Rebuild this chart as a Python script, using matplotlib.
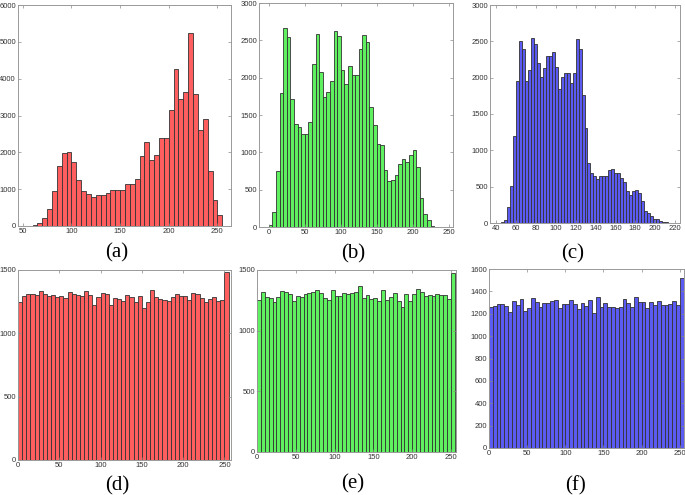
import matplotlib
matplotlib.use("Agg")
import matplotlib.pyplot as plt
import numpy as np

# ---- data (counts per bin) ----
# (a) red channel, bins of 5 starting at 60
a_start, a_width = 60, 5
a_counts = [25, 90, 220, 450, 950, 1640, 1980, 2010, 1740, 1250, 960, 870, 780, 850,
            850, 900, 970, 970, 980, 1150, 1140, 1280, 1900, 2270, 1780, 1920, 2390,
            2390, 3140, 4260, 3460, 3640, 5250, 3590, 2610, 2910, 1480, 715, 310]

# (b) green channel, bins of 5 starting at 0
b_start, b_width = 0, 5
b_counts = [30, 200, 750, 1800, 2670, 2540, 1720, 1380, 1340, 1250, 1250, 1400, 2180,
            2590, 2070, 1740, 1810, 1950, 2630, 2560, 2100, 1920, 2150, 2030, 2030,
            2390, 2570, 2480, 1610, 1360, 1110, 1100, 770, 610, 630, 700, 850, 910,
            870, 960, 1030, 800, 390, 170, 100, 20]

# (c) blue channel, bins of 3 starting at 42
c_start, c_width = 42, 3
c_counts = [3, 10, 40, 220, 510, 1200, 1950, 2510, 2390, 1960, 2100, 2540, 2460, 2200,
            2010, 2130, 2300, 2300, 2360, 2150, 1840, 2010, 2070, 2070, 1930, 2070,
            2530, 2390, 1760, 1310, 830, 690, 650, 610, 640, 650, 640, 730, 750, 690,
            690, 620, 570, 440, 390, 440, 450, 410, 300, 170, 140, 90, 60, 50, 30,
            20, 10]

# (d)-(f) equalised channels, bins of 5 starting at 0
u_start, u_width = 0, 5
d_counts = [1244, 1297, 1308, 1308, 1300, 1337, 1308, 1292, 1300, 1287, 1295, 1276,
            1329, 1308, 1305, 1297, 1334, 1300, 1221, 1287, 1321, 1308, 1221, 1281,
            1273, 1255, 1300, 1289, 1247, 1292, 1197, 1244, 1339, 1289, 1268, 1266,
            1255, 1284, 1310, 1292, 1292, 1263, 1318, 1310, 1276, 1244, 1268, 1289,
            1258, 1260, 1482]
e_counts = [1252, 1316, 1274, 1269, 1239, 1274, 1324, 1321, 1305, 1244, 1285, 1277,
            1299, 1313, 1316, 1332, 1310, 1266, 1252, 1332, 1285, 1283, 1313, 1299,
            1313, 1316, 1368, 1266, 1294, 1258, 1272, 1244, 1332, 1250, 1277, 1310,
            1244, 1197, 1302, 1244, 1299, 1346, 1316, 1283, 1296, 1288, 1302, 1294,
            1291, 1258, 1473]
f_counts = [1262, 1271, 1286, 1283, 1271, 1217, 1316, 1280, 1334, 1226, 1250, 1343,
            1304, 1256, 1298, 1292, 1316, 1319, 1250, 1289, 1286, 1322, 1289, 1241,
            1298, 1271, 1322, 1211, 1349, 1259, 1295, 1259, 1262, 1250, 1262, 1331,
            1295, 1256, 1346, 1301, 1304, 1247, 1304, 1277, 1316, 1274, 1274, 1286,
            1310, 1277, 1522]

panel_labels = ["(a)", "(b)", "(c)", "(d)", "(e)", "(f)"]

RED, GREEN, BLUE = "#FF5E5E", "#5EF05E", "#5B5BF2"

W, H = 685, 495
fig = plt.figure(figsize=(W / 100, H / 100), dpi=100)


def add_axes(left, top, right, bottom):
    return fig.add_axes([left / W, 1 - bottom / H, (right - left) / W, (bottom - top) / H])


def hist_panel(ax, counts, start, width, color, xlim, ylim, xticks, yticks):
    counts = np.asarray(counts, dtype=float)
    lefts = start + width * np.arange(len(counts))
    ax.bar(lefts, counts, width=width, align="edge", color=color,
           edgecolor="#333333", linewidth=0.6)
    ax.set_xlim(*xlim)
    ax.set_ylim(*ylim)
    ax.set_xticks(xticks)
    ax.set_yticks(yticks)
    ax.tick_params(direction="in", length=2, width=0.5, top=True, right=True,
                   labelsize=5.5, colors="#888888", labelcolor="#333333", pad=1.5)
    for lab in ax.get_xticklabels() + ax.get_yticklabels():
        lab.set_family("Liberation Sans")
        lab.set_stretch("condensed")
    for sp in ax.spines.values():
        sp.set_color("#999999")
        sp.set_linewidth(0.7)


ax_a = add_axes(18, 5, 231, 226)
hist_panel(ax_a, a_counts, a_start, a_width, RED, (45, 264), (0, 6000),
           range(50, 251, 50), range(0, 6001, 1000))
ax_b = add_axes(259, 3, 453, 227)
hist_panel(ax_b, b_counts, b_start, b_width, GREEN, (-13.5, 256), (0, 3000),
           range(0, 251, 50), range(0, 3001, 500))
ax_c = add_axes(490, 5, 680, 223)
hist_panel(ax_c, c_counts, c_start, c_width, BLUE, (34, 225), (0, 3000),
           range(40, 221, 20), range(0, 3001, 500))
ax_d = add_axes(18, 270, 231, 460)
hist_panel(ax_d, d_counts, u_start, u_width, RED, (0, 258), (0, 1500),
           range(0, 251, 50), range(0, 1501, 500))
ax_e = add_axes(257, 270, 456, 452)
hist_panel(ax_e, e_counts, u_start, u_width, GREEN, (0, 256.5), (0, 1500),
           range(0, 251, 50), range(0, 1501, 500))
ax_f = add_axes(489, 269, 684, 448)
hist_panel(ax_f, f_counts, u_start, u_width, BLUE, (0, 255.5), (0, 1600),
           range(0, 251, 50), range(0, 1601, 200))

label_pos = [(117, 253), (353, 254), (573, 254), (117, 486), (353, 484), (576, 486)]
for text, (px, py) in zip(panel_labels, label_pos):
    fig.text(px / W, 1 - py / H, text, ha="center", va="center",
             fontsize=15, family="Liberation Serif")

fig.savefig("out.png", dpi=100)
